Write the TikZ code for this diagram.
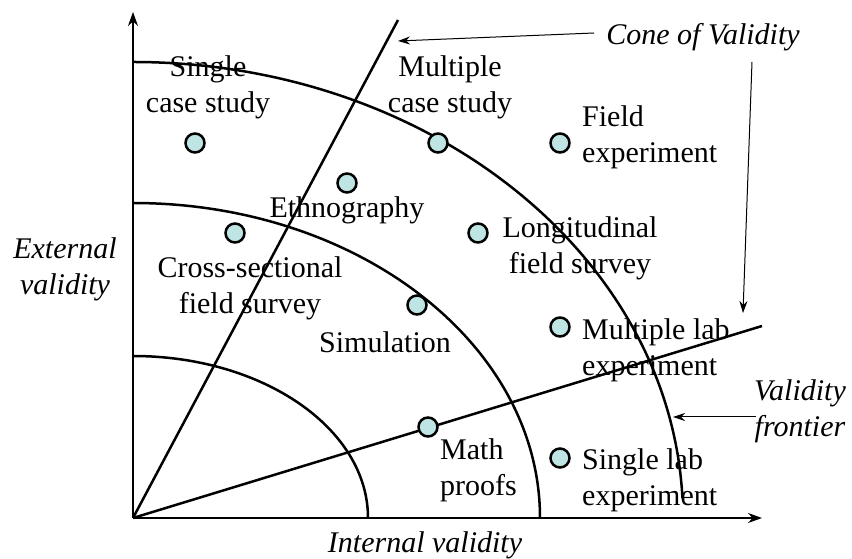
\documentclass[tikz,border=0pt]{standalone}
\usepackage{fontspec}
\setmainfont{Liberation Serif}
\usetikzlibrary{arrows.meta, positioning}
\definecolor{dotfill}{RGB}{190,228,228}
\tikzset{
x=1pt, y=1pt, % one unit is one pixel of the reference
every node/.style={font=\fontsize{30}{36}\selectfont, align=center, inner sep=0pt},
method/.style={circle, draw, line width=2.5pt, fill=dotfill, minimum size=19pt}, % the research methods
tag/.style={font=\fontsize{30}{36}\selectfont\itshape}, % the italic labels
axis/.style={line width=1.5pt, -{Stealth[length=14pt, width=10pt]}},
frontier/.style={line width=2.5pt},
pointer/.style={line width=1pt, -{Stealth[length=12pt, width=8pt]}},
}

\begin{document}
\begin{tikzpicture}
    \useasboundingbox (-133,-41) rectangle (719,518);
    \coordinate (O) at (0,0);
    \coordinate (ytop) at (0,506);
    \coordinate (xend) at (629,0);
    \coordinate (steep) at (265,498);
    \coordinate (flat) at (629,192);

    % axes, cone and frontiers
    \draw[axis] (O) -- (ytop);
    \draw[axis] (O) -- (xend);
    \draw[frontier] (O) -- (steep);
    \draw[frontier] (O) -- (flat);
    \draw[frontier] (0,162) arc[start angle=90, end angle=0, x radius=235, y radius=162];
    \draw[frontier] (0,315) arc[start angle=90, end angle=0, x radius=407, y radius=315];
    \draw[frontier] (0,456) arc[start angle=90, end angle=2.5, x radius=550, y radius=456];

    % methods
    \node[method] (single) at (62,375) {};
    \node[method] (multiple) at (305,375) {};
    \node[method] (field) at (427,375) {};
    \node[method] (ethno) at (214,335) {};
    \node[method] (cross) at (102,285) {};
    \node[method] (longi) at (345,285) {};
    \node[method] (sim) at (284,213) {};
    \node[method] (mlab) at (427,191) {};
    \node[method] (math) at (295,91) {};
    \node[method] (slab) at (427,60) {};

    \node (singlet) at (75,431) {Single\\case study};
    \node (multiplet) at (317,431) {Multiple\\case study};
    \node[anchor=west, align=left] (fieldt) at (449,381) {Field\\experiment};
    \node (ethnot) at (214,308) {Ethnography};
    \node (crosst) at (117,230) {Cross-sectional\\field survey};
    \node (longit) at (447,270) {Longitudinal\\field survey};
    \node (simt) at (252,176) {Simulation};
    \node[anchor=west, align=left] (mlabt) at (449,168) {Multiple lab\\experiment};
    \node[anchor=west, align=left] (matht) at (307,48) {Math\\proofs};
    \node[anchor=west, align=left] (slabt) at (449,38) {Single lab\\experiment};

    % axis and pointer labels
    \node[tag] (ext) at (-68,249) {External\\validity};
    \node[tag] (int) at (292,-27) {Internal validity};
    \node[tag] (cone) at (570,481) {Cone of Validity};
    \node[tag] (front) at (667,107) {Validity\\frontier};

    \coordinate (ctip) at (265,477);
    \coordinate (vstart) at (619,456);
    \coordinate (vtip) at (610,205);
    \coordinate (ftip) at (540,101);
    \draw[pointer] ([xshift=-12pt, yshift=4pt]cone.west) -- (ctip);
    \draw[pointer] (vstart) -- (vtip);
    \draw[pointer] ([xshift=2pt, yshift=-6pt]front.west) -- (ftip);
\end{tikzpicture}
\end{document}
